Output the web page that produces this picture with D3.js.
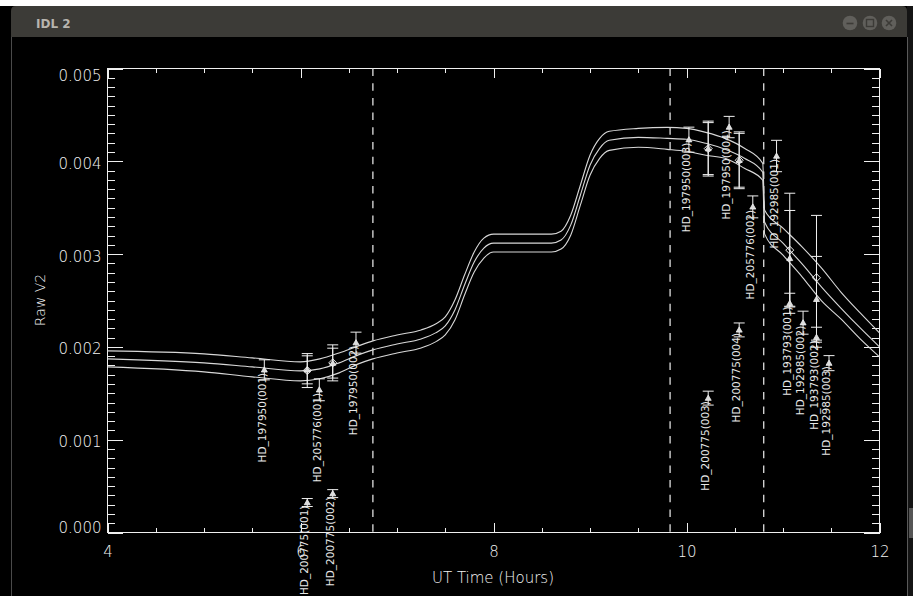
<!DOCTYPE html>
<html><head><meta charset="utf-8">
<script src="https://cdn.jsdelivr.net/npm/d3@7"></script>
<style>html,body{margin:0;padding:0;background:#000;overflow:hidden}</style>
</head><body>
<svg id="c" width="913" height="596"></svg>
<script>
// ---------------- data ----------------
// transfer-function model curves (UT hours, raw V2)
const curveTimes = [4.0,5.0,5.5,6.0,6.2,6.4,6.6,6.75,7.0,7.25,7.4,7.5,7.6,7.7,7.8,7.9,8.0,8.6,8.7,8.8,8.9,9.0,9.1,9.2,9.5,9.8,10.0,10.2,10.4,10.6,10.79,10.81,11.0,11.2,11.4,11.6,11.8,12.0];
const curveUpper = [1.957e-3,1.925e-3,1.882e-3,1.839e-3,1.871e-3,1.935e-3,2.011e-3,2.065e-3,2.129e-3,2.183e-3,2.247e-3,2.323e-3,2.505e-3,2.774e-3,3.022e-3,3.172e-3,3.215e-3,3.215e-3,3.247e-3,3.419e-3,3.742e-3,4.065e-3,4.247e-3,4.323e-3,4.355e-3,4.366e-3,4.355e-3,4.312e-3,4.247e-3,4.140e-3,3.978e-3,3.473e-3,3.280e-3,3.075e-3,2.849e-3,2.591e-3,2.366e-3,2.151e-3];
const curveMid   = [1.871e-3,1.828e-3,1.785e-3,1.742e-3,1.763e-3,1.828e-3,1.914e-3,1.968e-3,2.032e-3,2.086e-3,2.151e-3,2.226e-3,2.398e-3,2.667e-3,2.914e-3,3.065e-3,3.118e-3,3.118e-3,3.151e-3,3.312e-3,3.634e-3,3.957e-3,4.140e-3,4.226e-3,4.258e-3,4.247e-3,4.237e-3,4.194e-3,4.129e-3,4.032e-3,3.882e-3,3.344e-3,3.118e-3,2.892e-3,2.645e-3,2.419e-3,2.204e-3,2.000e-3];
const curveLower = [1.785e-3,1.731e-3,1.677e-3,1.634e-3,1.656e-3,1.720e-3,1.817e-3,1.871e-3,1.935e-3,1.989e-3,2.054e-3,2.129e-3,2.290e-3,2.559e-3,2.806e-3,2.957e-3,3.022e-3,3.022e-3,3.054e-3,3.204e-3,3.527e-3,3.849e-3,4.032e-3,4.118e-3,4.151e-3,4.129e-3,4.108e-3,4.065e-3,4.032e-3,3.925e-3,3.796e-3,3.215e-3,2.989e-3,2.753e-3,2.495e-3,2.301e-3,2.086e-3,1.892e-3];

// labelled measurements
const calLabels = ["HD_197950(001)","HD_200775(001)","HD_205776(001)","HD_200775(002)","HD_197950(002)","HD_197950(003)","HD_197950(004)","HD_205776(002)","HD_192985(001)","HD_193793(001)","HD_192985(002)","HD_193793(002)","HD_192985(003)","HD_200775(003)","HD_200775(004)"];
const calTimes  = [5.625,6.070,6.195,6.334,6.575,10.025,10.442,10.687,10.933,11.070,11.208,11.347,11.477,10.225,10.546];
const calV2     = [1.753e-3,0.323e-3,1.538e-3,0.419e-3,2.046e-3,4.233e-3,4.369e-3,3.509e-3,4.057e-3,2.470e-3,2.261e-3,2.104e-3,1.825e-3,1.448e-3,2.183e-3];
const calErr    = [0.108e-3,0.043e-3,0.118e-3,0.043e-3,0.113e-3,0.135e-3,0.115e-3,0.118e-3,0.169e-3,0.108e-3,0.124e-3,0.108e-3,0.081e-3,0.075e-3,0.075e-3];

// transfer function estimates at science times
const tfTimes      = [6.070,6.334,10.225,10.546,11.070,11.347];
const tfDiamondV2  = [1.745e-3,1.828e-3,4.137e-3,4.011e-3,3.043e-3,2.745e-3];
const tfDiamondErr = [0.183e-3,0.194e-3,0.296e-3,0.306e-3,0.613e-3,0.672e-3];
const tfTriV2      = [1.753e-3,1.825e-3,4.137e-3,4.011e-3,2.954e-3,2.513e-3];
const tfTriErr     = [0.151e-3,0.161e-3,0.280e-3,0.290e-3,0.516e-3,0.462e-3];

// vertical dashed markers
const dashTimes = [6.75,9.83,10.80];

// ticks
const xMajorTicks = [4,6,8,10,12];
const xMinorTicks = [4.5,5,5.5,6.5,7,7.5,8.5,9,9.5,10.5,11,11.5];
const yMajorTicks = [0,0.001,0.002,0.003,0.004,0.005];
const yTickLabels = ["0.000","0.001","0.002","0.003","0.004","0.005"];
const yMinorTicks = d3.range(1,50).filter(i=>i%10!==0).map(i=>i/10000);

const titleText = "IDL 2";
const xTitle = "UT Time (Hours)";
const yTitle = "Raw V2";

// ---------------- drawing ----------------
const W=913,H=596;
const svg=d3.select('#c');
const FONT="'DejaVu Sans', sans-serif";

// window chrome
svg.append('rect').attr('width',W).attr('height',H).attr('fill','#000');
svg.append('rect').attr('x',0).attr('y',0).attr('width',W).attr('height',6).attr('fill','#fff');
svg.append('rect').attr('x',907).attr('y',6).attr('width',6).attr('height',H-6).attr('fill','#141414');
svg.append('path').attr('d','M11,37 L11,11 Q11,6 16,6 L902,6 Q907,6 907,11 L907,37 Z').attr('fill','#3c3b37');
svg.append('line').attr('x1',11.5).attr('x2',11.5).attr('y1',37).attr('y2',H).attr('stroke','#4a4a4a');
svg.append('line').attr('x1',907.5).attr('x2',907.5).attr('y1',37).attr('y2',H).attr('stroke','#5a5a5a');
svg.append('rect').attr('x',909).attr('y',508).attr('width',4).attr('height',30).attr('fill','#555');
svg.append('text').attr('x',36).attr('y',27.5).text(titleText)
  .attr('font-family',FONT).attr('font-weight','bold').attr('font-size',12).attr('fill','#b8b5ae');
const btn=[850,870,889];
btn.forEach(cx=>{
  svg.append('circle').attr('cx',cx).attr('cy',23).attr('r',7.3).attr('fill','#605f5b');
});
svg.append('line').attr('x1',846.5).attr('x2',853.5).attr('y1',23.5).attr('y2',23.5).attr('stroke','#3c3b37').attr('stroke-width',1.6);
svg.append('rect').attr('x',866.5).attr('y',19.5).attr('width',7).attr('height',7).attr('fill','none').attr('stroke','#3c3b37').attr('stroke-width',1.4);
svg.append('path').attr('d','M886,20 L892,26 M892,20 L886,26').attr('stroke','#3c3b37').attr('stroke-width',1.6);

// scales
const x=d3.scaleLinear().domain([4,12]).range([107.5,879.5]);
const y=d3.scaleLinear().domain([0,0.005]).range([532.5,68.5]);
const FG='#f0f0f0', TXT='#f4f4f4';

function styleAxis(g){
  g.select('.domain').remove();
  g.selectAll('.tick line').attr('stroke',FG).attr('stroke-width',1).attr('shape-rendering','crispEdges');
  g.selectAll('.tick text').attr('fill',TXT).attr('font-family',FONT).attr('font-weight',200).attr('font-size',15);
}
// left
styleAxis(svg.append('g').attr('transform','translate(107.5,0)')
  .call(d3.axisLeft(y).tickValues(yMinorTicks).tickSize(-7.7).tickFormat('')));
const gL=svg.append('g').attr('transform','translate(107.5,0)')
  .call(d3.axisLeft(y).tickValues(yMajorTicks).tickSize(-15.4).tickPadding(6).tickFormat((d,i)=>yTickLabels[i]));
styleAxis(gL);
gL.selectAll('.tick text').attr('dy',(d,i)=> i===0? '0px' : (i===yMajorTicks.length-1 ? '11.5px' : '7px'));
// right
styleAxis(svg.append('g').attr('transform','translate(879.5,0)')
  .call(d3.axisRight(y).tickValues(yMinorTicks).tickSize(-7.7).tickFormat('')));
styleAxis(svg.append('g').attr('transform','translate(879.5,0)')
  .call(d3.axisRight(y).tickValues(yMajorTicks).tickSize(-15.4).tickFormat('')));
// bottom
styleAxis(svg.append('g').attr('transform','translate(0,532.5)')
  .call(d3.axisBottom(x).tickValues(xMinorTicks).tickSize(-4.65).tickFormat('')));
styleAxis(svg.append('g').attr('transform','translate(0,532.5)')
  .call(d3.axisBottom(x).tickValues(xMajorTicks).tickSize(-9.3).tickPadding(13.5).tickFormat(d3.format('d'))));
// top
styleAxis(svg.append('g').attr('transform','translate(0,68.5)')
  .call(d3.axisTop(x).tickValues(xMinorTicks).tickSize(-4.65).tickFormat('')));
styleAxis(svg.append('g').attr('transform','translate(0,68.5)')
  .call(d3.axisTop(x).tickValues(xMajorTicks).tickSize(-9.3).tickFormat('')));
// frame
svg.append('rect').attr('x',x(4)).attr('y',y(0.005)).attr('width',x(12)-x(4)).attr('height',y(0)-y(0.005))
  .attr('fill','none').attr('stroke',FG).attr('stroke-width',1.2).attr('shape-rendering','crispEdges');

// axis titles
svg.append('text').attr('x',493).attr('y',583).attr('text-anchor','middle').text(xTitle)
  .attr('fill',TXT).attr('font-family',FONT).attr('font-weight',200).attr('font-size',15);
svg.append('text').attr('transform','translate(45,300) rotate(-90)').attr('text-anchor','middle').text(yTitle)
  .attr('fill',TXT).attr('font-family',FONT).attr('font-weight',200).attr('font-size',14);

// dashed lines
svg.selectAll('line.dash').data(dashTimes).enter().append('line').attr('class','dash')
  .attr('x1',d=>x(d)).attr('x2',d=>x(d)).attr('y1',y(0.005)).attr('y2',y(0))
  .attr('stroke','#d0d0d0').attr('stroke-width',1.4).attr('stroke-dasharray','7.5,7.2');

// curves
const line=d3.line().x((d,i)=>x(curveTimes[i])).y(d=>y(d)).curve(d3.curveMonotoneX);
[curveUpper,curveMid,curveLower].forEach(arr=>{
  svg.append('path').attr('d',line(arr)).attr('fill','none').attr('stroke','#d8d8d8').attr('stroke-width',1.1);
});

// error bars helper
function errBar(t,v,e,cap){
  const g=svg.append('g').attr('stroke',FG).attr('stroke-width',1).attr('fill','none');
  const cx=x(t);
  g.append('line').attr('x1',cx).attr('x2',cx).attr('y1',y(v-e)).attr('y2',y(v+e));
  g.append('line').attr('x1',cx-cap).attr('x2',cx+cap).attr('y1',y(v-e)).attr('y2',y(v-e));
  g.append('line').attr('x1',cx-cap).attr('x2',cx+cap).attr('y1',y(v+e)).attr('y2',y(v+e));
}
function tri(t,v){
  const cx=x(t), cy=y(v);
  svg.append('path').attr('d',`M${cx},${cy-3} L${cx+3},${cy+2.2} L${cx-3},${cy+2.2} Z`)
    .attr('fill','#dcdcdc').attr('stroke',FG).attr('stroke-width',0.8);
}
function diamond(t,v){
  const cx=x(t), cy=y(v);
  svg.append('path').attr('d',`M${cx},${cy-4} L${cx+4},${cy} L${cx},${cy+4} L${cx-4},${cy} Z`)
    .attr('fill','none').attr('stroke',FG).attr('stroke-width',1);
}

// transfer function points
tfTimes.forEach((t,i)=>{
  errBar(t,tfDiamondV2[i],tfDiamondErr[i],5.5);
  diamond(t,tfDiamondV2[i]);
  errBar(t,tfTriV2[i],tfTriErr[i],5.5);
  tri(t,tfTriV2[i]);
});

// labelled measurements
calTimes.forEach((t,i)=>{
  errBar(t,calV2[i],calErr[i],5.5);
  tri(t,calV2[i]);
  svg.append('text').attr('transform',`translate(${x(t)+1.2},${y(calV2[i])+3}) rotate(-90)`)
    .attr('text-anchor','end').text(calLabels[i])
    .attr('fill','#e8e8e8').attr('font-family',FONT).attr('font-size',10.5);
});
</script>
</body></html>
